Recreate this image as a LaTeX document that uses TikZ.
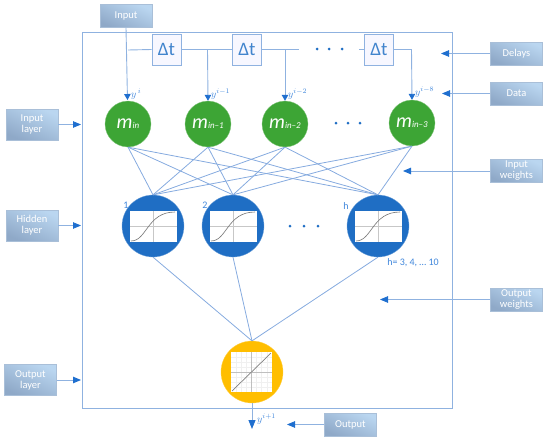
\documentclass[tikz,border=0pt]{standalone}
\usepackage{fontspec}
\setmainfont{Carlito}
\usetikzlibrary{arrows.meta}
\definecolor{frameblue}{HTML}{8FB2E0}
\definecolor{weightblue}{HTML}{86ABDF}
\definecolor{arrowblue}{HTML}{1F6FCF}
\definecolor{textblue}{HTML}{3F86DB}
\definecolor{nodegreen}{HTML}{3DA535}
\definecolor{nodeblue}{HTML}{1F6EC4}
\definecolor{nodeyellow}{HTML}{FFBE00}
\definecolor{boxlight}{HTML}{BAD6F0}
\definecolor{boxdark}{HTML}{8FA9C8}
\definecolor{boxedge}{HTML}{A9BFD8}
\tikzset{
  x=1pt,y=-1pt,
  labelbox/.style={draw=boxedge,line width=.6pt,top color=boxlight,bottom color=boxdark,shading angle=-25,
    text=white,font=\fontsize{10.5}{11}\selectfont,align=center,minimum width=52pt,inner sep=0pt,text width=50pt},
  boxone/.style={labelbox,minimum height=23pt},
  boxtwo/.style={labelbox,minimum height=31pt},
  delaybox/.style={draw=frameblue,line width=.8pt,fill=blue!3,text=nodeblue!85!white,minimum width=29pt,minimum height=31pt,inner sep=0pt,font=\fontsize{19}{20}\selectfont},
  incircle/.style={circle,fill=nodegreen,draw=nodegreen!60!white,line width=.3pt,minimum size=46pt,inner sep=0pt,text=white},
  hidcircle/.style={circle,fill=nodeblue,draw=nodeblue!60!white,line width=.3pt,minimum size=62pt,inner sep=0pt},
  outcircle/.style={circle,fill=nodeyellow,draw=nodeyellow!70!white,line width=.3pt,minimum size=62pt,inner sep=0pt},
  frameline/.style={draw=frameblue,line width=.9pt},
  wire/.style={color=frameblue,line width=.9pt},
  weight/.style={color=weightblue,line width=.8pt},
  feed/.style={wire,-{Triangle[length=6pt,width=6.5pt,color=arrowblue]}},
  callout/.style={color=frameblue,line width=.9pt,-{Triangle[length=8pt,width=6.5pt,color=arrowblue]}},
  bluetext/.style={text=textblue,inner sep=0pt,font=\fontsize{10}{11}\selectfont},
  ylabel/.style={text=textblue,inner sep=0pt,font=\fontsize{10}{11}\selectfont},
  dotmark/.style={circle,fill=nodeblue,minimum size=3pt,inner sep=0pt},
}
\newcommand{\mlabel}[1]{{\fontsize{20}{20}\selectfont\itshape m}{\fontsize{9}{10}\selectfont\itshape #1}}
\begin{document}
\begin{tikzpicture}
\useasboundingbox (0,0) rectangle (550,442);
% coordinates for free ends
\coordinate (inend) at (127.5,100);
\coordinate (inj) at (128,50);
\coordinate (j2) at (207.5,49.5);
\coordinate (j3) at (285,49.5);
\coordinate (l3) at (299,49.5);
\coordinate (l4) at (359,49.5);
\coordinate (t1) at (411.5,49.5);
\coordinate (outend) at (252,429);
% frame
\node[frameline,minimum width=370pt,minimum height=375.5pt,inner sep=0pt,anchor=north west] (frame) at (82,32) {};
% label boxes
\node[boxone] (input) at (126,16) {Input};
\node[boxone] (delays) at (516.5,53.5) {Delays};
\node[boxone] (data) at (516.5,93.5) {Data};
\node[boxtwo] (inlayer) at (32,124.5) {Input\\layer};
\node[boxtwo] (hidlayer) at (32,225.5) {Hidden\\layer};
\node[boxtwo] (outlayer) at (30.5,380) {Output\\layer};
\node[boxone] (inw) at (516.5,171) {Input\\weights};
\node[boxone] (outw) at (516.5,299.5) {Output\\weights};
\node[boxone] (output) at (350.5,424.5) {Output};
% delay line
\node[delaybox] (d1) at (166.5,49.5) {Δt};
\node[delaybox] (d2) at (247,49.5) {Δt};
\node[delaybox] (d3) at (379,49.5) {Δt};
\draw[wire] (inj) -- (d1.west);
\draw[wire] (d1.east) -- (d2.west);
\draw[wire] (d2.east) -- (l3);
\draw[wire] (l4) -- (d3.west);
\draw[wire] (d3.east) -- (t1);
% input neurons
\node[incircle] (m1) at (128,124) {\mlabel{in}};
\node[incircle] (m2) at (208,124) {\mlabel{in–1}};
\node[incircle] (m3) at (285,124) {\mlabel{in–2}};
\node[incircle] (m4) at (412,123) {\mlabel{in–3}};
\draw[feed] (input.south) -- (inend);
\draw[feed] (j2) -- (m2.north);
\draw[feed] (j3) -- (m3.north);
\draw[feed] (t1) -- (m4.north);
% hidden neurons
\foreach \n/\x in {h1/153,h2/233,h3/378}{
  \node[hidcircle] (\n) at (\x,226) {};
  \fill[white] (\x-23,211) rectangle (\x+24,242);
  \draw[black!22,line width=.5pt] (\x-23,226.5) -- (\x+24,226.5) (\x,211) -- (\x,242);
  \draw[black!55,line width=.6pt] (\x-22,241) .. controls (\x-6,241) and (\x-6,212) .. (\x+22,212);
}
% output neuron
\node[outcircle] (o1) at (252,372) {};
\fill[white] (231,352) rectangle (272,392);
\foreach \k in {1,...,7}{
  \draw[black!6,line width=.3pt] (231+\k*5.1,352) -- (231+\k*5.1,392);
  \draw[black!6,line width=.3pt] (231,352+\k*5) -- (272,352+\k*5);
}
\draw[black!25,line width=.5pt] (231,372) -- (272,372) (251.5,352) -- (251.5,392);
\draw[black!50,line width=.7pt] (232,391) -- (271,353);
% weights
\foreach \a in {m1,m2,m3,m4}
  \foreach \b in {h1,h2,h3}
    \draw[weight] (\a.south) -- (\b.north);
\foreach \b in {h1,h2,h3}
  \draw[weight] (\b.south) -- (o1.north);
\draw[wire,-{Triangle[length=9pt,width=7pt,color=arrowblue]}] (o1.south) -- (outend);
% callouts
\coordinate (c1) at (441,53.5);
\coordinate (c2) at (442,93.5);
\coordinate (c3) at (403,171);
\coordinate (c4) at (380,299.5);
\coordinate (c5) at (287,424.5);
\coordinate (c6) at (81,124.5);
\coordinate (c7) at (81,225.5);
\coordinate (c9) at (81,380);
\draw[callout] (delays.west) -- (c1);
\draw[callout] (data.west) -- (c2);
\draw[callout] (inw.west) -- (c3);
\draw[callout] (outw.west) -- (c4);
\draw[callout] (output.west) -- (c5);
\draw[callout] (inlayer.east) -- (c6);
\draw[callout] (hidlayer.east) -- (c7);
\draw[callout] (outlayer.east) -- (c9);
% dots
\foreach \n/\x/\y in {a1/317/49,a2/329/49,a3/342/49,b1/336/123,b2/348/123,b3/360/123,e1/290/226,e2/304/226,e3/318/226}
  \node[dotmark] (\n) at (\x,\y) {};
% labels
\node[ylabel,anchor=west] (y1) at (131,94) {$y^{\,i}$};
\node[ylabel,anchor=west] (y2) at (211,94) {$y^{i-1}$};
\node[ylabel,anchor=west] (y3) at (288,94) {$y^{i-2}$};
\node[ylabel,anchor=west] (y4) at (415,92) {$y^{i-8}$};
\node[ylabel,anchor=west] (y5) at (257,419) {$y^{i+1}$};
\node[bluetext] (n1) at (126,205) {1};
\node[bluetext] (n2) at (205,205) {2};
\node[bluetext] (n3) at (346,206) {h};
\node[bluetext] (hval) at (413,263) {h= 3, 4, … 10};
\end{tikzpicture}
\end{document}
